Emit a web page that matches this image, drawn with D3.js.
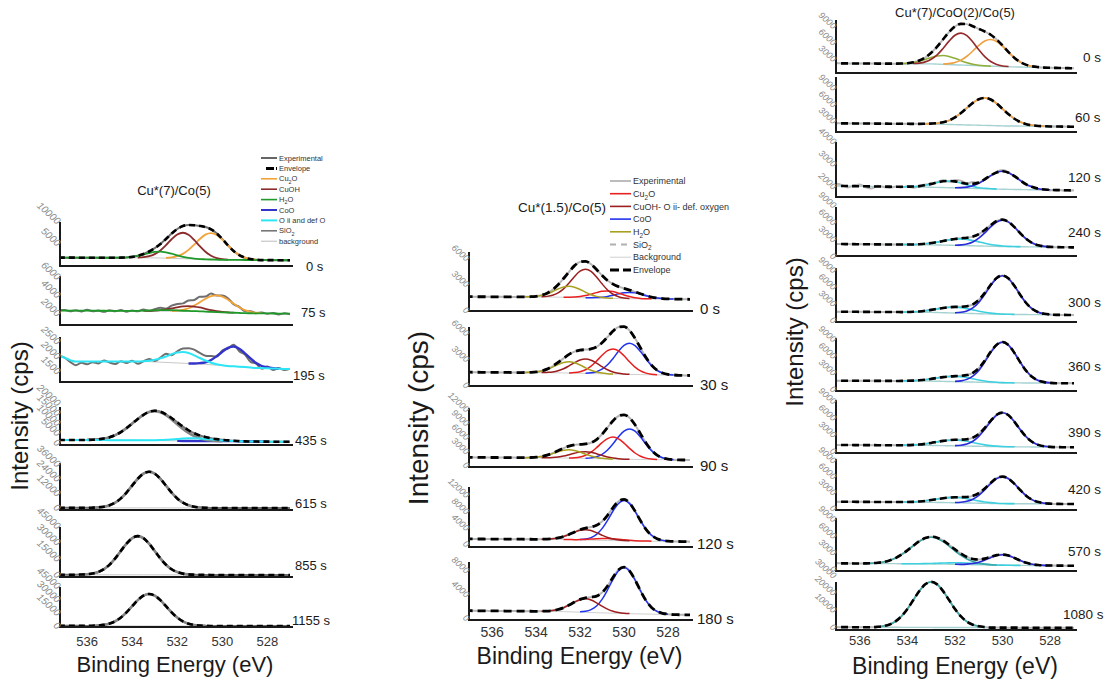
<!DOCTYPE html>
<html><head><meta charset="utf-8">
<script src="https://cdn.jsdelivr.net/npm/d3@7"></script>
<style>body{margin:0;background:#fff}svg{display:block}text{font-family:Arial,"Liberation Sans",sans-serif}</style>
</head><body><svg id="c" width="1108" height="682"></svg>
<script>
// ================= DATA =================
const energyTicks = [536, 534, 532, 530, 528];
const gridStep = 0.25;            // eV spacing of sampled component values
const axisTitleX = "Binding Energy (eV)";
const axisTitleY = "Intensity (cps)";

// ---- Left: Cu*(7)/Co(5) ----
const leftTitle = "Cu*(7)/Co(5)";
const leftTimes = ["0 s","75 s","195 s","435 s","615 s","855 s","1155 s"];
const leftYDomains = [[0,10000],[800,6200],[1170,2670],[-500,18500],[-800,37600],[-900,45000],[0,45000]];
const leftYTicks = [[5000,10000],[2000,4000,6000],[1500,2000,2500],[0,5000,10000,15000,20000],[0,12000,24000,36000],[0,15000,30000,45000],[0,15000,30000,45000]];
const leftLegendLabels = ["Experimental","Envelope","Cu_2O","CuOH","H_2O","CoO","O ii and def O","SiO_2","background"];
const leftBackground = [
  [[537.2,1900],[533,1850],[530,1400],[527,1300]],
  [[537.2,2400],[531,2300],[529,2100],[527,2050]],
  [[537.2,2050],[536.6,1850],[533.3,1850],[531,1770],[528.5,1640],[527,1600]],
  [[537.2,2000],[534,1900],[531,1400],[527,1100]],
  [[537.2,1000],[527,800]],
  [[537.2,1200],[527,900]],
  [[537.2,1300],[527,1000]]];
// each component: [start energy (eV), heights above background every 0.25 eV going to lower energy]
const leftCu2O = [
  [532.5,[80,220,520,1100,2030,3260,4580,5610,6000,5610,4580,3260,2030,1100,520,220,80]],
  [532.25,[20,70,160,340,630,1010,1410,1730,1850,1730,1410,1010,630,340,160,70,20]],
  null,null,null,null,null];
const leftCuOH = [
  [533.75,[40,140,370,860,1720,2950,4340,5460,5900,5460,4340,2950,1720,860,370,140,40]],
  [533.5,[10,20,50,100,190,310,430,530,570,530,430,310,190,100,50,20,10]],
  null,null,null,null,null];
const leftH2O = [
  [534.75,[10,30,90,210,420,730,1070,1340,1450,1340,1070,730,420,210,90,30,10]],
  [534.5,[0,0,10,20,40,60,90,110,120,110,90,60,40,20,10,0,0]],
  null,null,null,null,null];
const leftCoO = [null,null,
  [531.5,[0,10,30,70,160,300,460,600,660,600,460,300,160,70,30,10,0]],
  [532,[0,0,10,30,60,100,150,190,200,190,150,100,60,30,10,0,0]],
  null,null,null];
const leftOii = [null,null,
  [533.75,[0,10,30,70,130,200,280,350,370,350,280,200,130,70,30,10,0]],
  [533.25,[90,170,300,470,700,950,1180,1340,1400,1340,1180,950,700,470,300,170,90]],
  null,null,null];
const leftSiO2 = [null,null,null,
  [536.0,[90,190,410,810,1480,2540,4040,6010,8290,10660,12740,14190,14700,14190,12740,10660,8290,6010,4040,2540,1480,810,410,190,90]],
  [535.75,[150,380,970,2150,4310,7760,12540,18230,23810,27970,29500,27970,23810,18230,12540,7760,4310,2150,970,380,150]],
  [536.25,[180,460,1170,2590,5180,9340,15090,21940,28650,33650,35500,33650,28650,21940,15090,9340,5180,2590,1170,460,180]],
  [535.75,[180,470,1190,2630,5260,9470,15300,22250,29050,34130,36000,34130,29050,22250,15300,9470,5260,2630,1190,470,180]]];
// deviation of the measured curve from the envelope, every 0.25 eV from 537 to 527 eV
const leftExpResidual = [null,
  [60,-80,40,-100,90,-60,20,-120,70,-40,100,-90,30,-50,110,-70,60,150,-30,180,220,120,250,80,160,-60,90,-120,60,140,-80,40,-110,70,-60,90,-40,60,-100,30,-70],
  [0,-60,-120,-40,-90,-20,-60,40,-30,-80,10,-50,30,-70,0,60,-40,20,90,-30,40,120,160,180,140,90,60,-40,30,-20,60,-80,-40,-110,-20,-90,30,-60,20,-40,10],
  null,null,null,null];

// ---- Middle: Cu*(1.5)/Co(5) ----
const midTitle = "Cu*(1.5)/Co(5)";
const midTimes = ["0 s","30 s","90 s","120 s","180 s"];
const midYDomains = [[0,6800],[0,6800],[-200,12400],[-500,14100],[-170,9500]];
const midYTicks = [[0,3000,6000],[0,3000,6000],[0,3000,6000,9000,12000],[0,4000,8000,12000],[0,4000,8000]];
const midLegendLabels = ["Experimental","Cu_2O","CuOH- O ii- def. oxygen","CoO","H_2O","SiO_2","Background","Envelope"];
const midBackground = [
  [[537.05,1650],[533,1600],[530,1420],[527,1350]],
  [[537.05,1590],[533,1520],[530,1350],[527,1210]],
  [[537.05,1860],[533,1750],[530,1450],[527,1280]],
  [[537.05,1460],[533,1350],[530,1000],[527,800]],
  [[537.05,1380],[533,1250],[530,900],[527,670]]];
const midH2O = [
  [534.5,[10,30,80,190,370,640,940,1190,1280,1190,940,640,370,190,80,30,10]],
  [534.5,[10,30,80,190,380,650,960,1200,1300,1200,960,650,380,190,80,30,10]],
  [534.5,[10,40,110,260,530,900,1320,1670,1800,1670,1320,900,530,260,110,40,10]],
  null,null];
const midCuOH = [
  [533.75,[20,80,210,480,960,1650,2430,3060,3300,3060,2430,1650,960,480,210,80,20]],
  [533.75,[10,40,100,240,480,830,1210,1530,1650,1530,1210,830,480,240,100,40,10]],
  [533.75,[10,30,90,210,420,730,1070,1340,1450,1340,1070,730,420,210,90,30,10]],
  [533.75,[20,60,160,370,730,1250,1840,2320,2500,2320,1840,1250,730,370,160,60,20]],
  [533.75,[20,50,140,330,660,1130,1650,2080,2250,2080,1650,1130,660,330,140,50,20]]];
const midCu2O = [
  [532.75,[10,20,50,120,250,430,620,790,850,790,620,430,250,120,50,20,10]],
  [532.5,[20,70,180,420,850,1450,2130,2690,2900,2690,2130,1450,850,420,180,70,20]],
  [532.5,[30,110,300,690,1370,2350,3450,4350,4700,4350,3450,2350,1370,690,300,110,30]],
  [532.75,[0,10,30,70,150,250,370,460,500,460,370,250,150,70,30,10,0]],
  null];
const midCoO = [
  [531.75,[10,20,50,110,210,370,540,680,730,680,540,370,210,110,50,20,10]],
  [531.75,[30,80,230,530,1050,1800,2650,3330,3600,3330,2650,1800,1050,530,230,80,30]],
  [531.75,[50,150,410,950,1900,3250,4780,6020,6500,6020,4780,3250,1900,950,410,150,50]],
  [532,[70,230,620,1430,2860,4900,7200,9070,9800,9070,7200,4900,2860,1430,620,230,70]],
  [532,[60,180,490,1120,2250,3850,5660,7130,7700,7130,5660,3850,2250,1120,490,180,60]]];

// ---- Right: Cu*(7)/CoO(2)/Co(5) ----
const rightTitle = "Cu*(7)/CoO(2)/Co(5)";
const rightTimes = ["0 s","60 s","120 s","240 s","300 s","360 s","390 s","420 s","570 s","1080 s"];
const rightYDomains = [[545,10180],[1090,11090],[1556,4000],[176,8820],[-180,9530],[-180,9350],[-180,9350],[-190,9380],[-180,9350],[-1150,26540]];
const rightYTicks = [[3000,6000,9000],[3000,6000,9000],[2000,3000,4000],[0,3000,6000,9000],[0,3000,6000,9000],[0,3000,6000,9000],[0,3000,6000,9000],[0,3000,6000,9000],[0,3000,6000,9000],[0,10000,20000,30000]];
const rightBackground = [
  [[537,2300],[533,2200],[530,1700],[527,1400]],
  [[537,2670],[533,2550],[530,2200],[527,2050]],
  [[537,2050],[533,1990],[530,1900],[527,1850]],
  [[537,2290],[533,2150],[530,1850],[527,1700]],
  [[537,1680],[533,1550],[530,1200],[527,1080]],
  [[537,1680],[533,1600],[530,1300],[527,1200]],
  [[537,1260],[533,1180],[530,950],[527,850]],
  [[537,1370],[533,1250],[530,1000],[527,940]],
  [[537,1200],[533,1100],[530,850],[527,770]],
  [[537,500],[527,100]]];
const rightH2O = [[534.5,[10,40,100,230,470,800,1180,1480,1600,1480,1180,800,470,230,100,40,10]],null,null,null,null,null,null,null,null,null];
const rightCuOH = [[533.75,[40,130,360,850,1690,2900,4260,5370,5800,5370,4260,2900,1690,850,360,130,40]],null,null,null,null,null,null,null,null,null];
const rightCu2O = [
  [532.5,[60,170,420,890,1640,2640,3700,4530,4850,4530,3700,2640,1640,890,420,170,60]],
  [533.25,[30,70,170,370,730,1320,2130,3090,4040,4740,5000,4740,4040,3090,2130,1320,730,370,170,70,30]],
  null,null,null,null,null,null,null,null];
const rightOii = [null,null,
  [534.25,[0,10,20,40,90,150,220,280,300,280,220,150,90,40,20,10,0]],
  [534.25,[10,20,40,90,170,310,500,720,940,1110,1170,1110,940,720,500,310,170,90,40,20,10]],
  [534.5,[10,10,30,80,150,280,450,650,850,1000,1050,1000,850,650,450,280,150,80,30,10,10]],
  [534.5,[0,10,30,70,140,250,400,590,770,900,950,900,770,590,400,250,140,70,30,10,0]],
  [534.5,[10,10,30,80,150,280,450,660,860,1000,1060,1000,860,660,450,280,150,80,30,10,10]],
  [534.5,[10,10,30,70,150,260,430,620,810,950,1000,950,810,620,430,260,150,70,30,10,10]],
  [534.25,[0,0,10,20,40,80,130,190,240,280,300,280,240,190,130,80,40,20,10,0,0]],
  null];
const rightCoO = [null,null,
  [532,[10,20,50,120,230,400,590,740,800,740,590,400,230,120,50,20,10]],
  [532,[30,110,290,680,1360,2330,3420,4310,4650,4310,3420,2330,1360,680,290,110,30]],
  [532,[50,160,440,1010,2030,3480,5110,6440,6950,6440,5110,3480,2030,1010,440,160,50]],
  [532,[50,170,460,1070,2130,3650,5370,6760,7300,6760,5370,3650,2130,1070,460,170,50]],
  [532,[40,140,380,890,1780,3050,4480,5650,6100,5650,4480,3050,1780,890,380,140,40]],
  [532,[40,120,320,740,1470,2530,3710,4680,5050,4680,3710,2530,1470,740,320,120,40]],
  [532,[10,20,80,210,460,860,1330,1740,1900,1740,1330,860,460,210,80,20,10]],
  null];
const rightSiO2 = [null,null,null,null,null,null,null,null,
  [535.75,[20,60,140,300,580,1010,1630,2400,3250,4040,4600,4800,4600,4040,3250,2400,1630,1010,580,300,140,60,20]],
  [535.25,[260,710,1630,3420,6390,10630,15810,20960,24850,26300,24850,20960,15810,10630,6390,3420,1630,710,260]]];
const rightExpResidual = [null,null,
  [100,40,-60,20,80,-40,-90,30,-20,-60,10,-30,20,-50,-10,30,-20,10,40,-30,60,90,20,70,-10,30,-20,40,60,20,-30,10,-40,30,-20,10,-30,20,-10,-20,10],
  null,null,null,null,null,null,null];

// ================= DRAWING =================
const svg = d3.select("#c");
const grid = d3.range(0, 42).map(k => 537.25 - k * gridStep);

function compAt(comp, E) {
  const k = Math.round((comp[0] - E) / gridStep);
  return (k >= 0 && k < comp[1].length) ? comp[1][k] : 0;
}

function richText(t, label, fs) {
  const parts = label.split(/_(\d)/);
  let sub = false;
  parts.forEach((p, i) => {
    if (i % 2 === 1) { t.append("tspan").attr("font-size", fs * 0.72).attr("dy", fs * 0.3).text(p); sub = true; }
    else if (p) { const ts = t.append("tspan").text(p); if (sub) { ts.attr("dy", -fs * 0.3); sub = false; } }
  });
}

let clipCount = 0;
function drawPanel(P) {
  const g = svg.append("g");
  const x = d3.scaleLinear().domain(P.eDomain).range([P.x0, P.x1]);
  P.rows.forEach(([bottom, top], i) => {
    const y = d3.scaleLinear().domain(P.yDomains[i]).range([bottom, top]);
    const knots = P.bg[i];
    const bg = d3.scaleLinear().domain(knots.map(d => d[0])).range(knots.map(d => d[1])).clamp(true);
    const id = "clip" + (clipCount++);
    g.append("clipPath").attr("id", id).append("rect")
      .attr("x", P.x0 + 1).attr("y", top - 14).attr("width", P.x1 - P.x0 - 1).attr("height", bottom - top + 13);
    const cg = g.append("g").attr("clip-path", `url(#${id})`);
    const line = d3.line().x(d => x(d[0])).y(d => y(d[1])).curve(d3.curveMonotoneX);
    const comps = P.comps.map(c => ({ ...c, d: c.v[i] })).filter(c => c.d);
    const env = grid.map(E => [E, bg(E) + d3.sum(comps, c => compAt(c.d, E))]);
    const res = P.residual ? P.residual[i] : null;
    const exp = env.map((p, j) => [p[0], p[1] + (res && j > 0 && res[j - 1] !== undefined ? res[j - 1] : 0)]);
    // background
    cg.append("path").attr("d", line(grid.map(E => [E, bg(E)]))).attr("fill", "none")
      .attr("stroke", P.bgColor).attr("stroke-width", P.bgWidth);
    // experimental
    cg.append("path").attr("d", line(exp)).attr("fill", "none").attr("stroke", P.expColor)
      .attr("stroke-width", P.expWidth).attr("stroke-linejoin", "round");
    // components
    comps.forEach(c => {
      let pts;
      if (c.full) pts = grid.map(E => [E, bg(E) + compAt(c.d, E)]);
      else pts = c.d[1].map((h, k) => { const E = c.d[0] - k * gridStep; return [E, bg(E) + h]; });
      cg.append("path").attr("d", line(pts)).attr("fill", "none").attr("stroke", c.c)
        .attr("stroke-width", c.w || P.compWidth).attr("stroke-linejoin", "round");
    });
    // envelope
    if (P.envShow[i]) {
      cg.append("path").attr("d", line(env)).attr("fill", "none").attr("stroke", "#000")
        .attr("stroke-width", P.envWidth).attr("stroke-dasharray", P.envDash);
    }
    // axes
    g.append("line").attr("x1", P.x0).attr("x2", P.x0).attr("y1", top).attr("y2", bottom + 1)
      .attr("stroke", "#1a1a1a").attr("stroke-width", 2);
    g.append("line").attr("x1", P.x0).attr("x2", P.x1 + 3).attr("y1", bottom).attr("y2", bottom)
      .attr("stroke", "#1a1a1a").attr("stroke-width", 2);
    // rotated y tick labels
    P.yTicks[i].forEach(v => {
      g.append("text").attr("transform", `translate(${P.x0 - 3},${y(v) + 3}) rotate(42)`)
        .attr("text-anchor", "end").attr("font-size", P.tickFont).attr("fill", "#8a8a8a")
        .attr("font-style", "italic").text(d3.format("d")(v));
    });
    // time label
    g.append("text").attr("x", P.timePos[i][0]).attr("y", P.timePos[i][1])
      .attr("font-size", P.timeFont).attr("fill", "#1a1a1a").text(P.times[i]);
    // x tick labels on the bottom subplot
    if (i === P.rows.length - 1) {
      energyTicks.forEach(e => {
        g.append("text").attr("x", x(e)).attr("y", bottom + P.xTickDy).attr("text-anchor", "middle")
          .attr("font-size", P.xTickFont).attr("fill", "#333").text(e);
      });
      g.append("text").attr("x", (P.x0 + P.x1) / 2).attr("y", P.xTitleY).attr("text-anchor", "middle")
        .attr("font-size", P.xTitleFont).attr("fill", "#1a1a1a").text(axisTitleX);
    }
  });
  g.append("text").attr("transform", `translate(${P.yTitle[0]},${P.yTitle[1]}) rotate(-90)`)
    .attr("text-anchor", "middle").attr("font-size", P.yTitleFont).attr("fill", "#1a1a1a").text(axisTitleY);
  g.append("text").attr("x", P.title[0]).attr("y", P.title[1]).attr("text-anchor", "middle")
    .attr("font-size", P.titleFont).attr("fill", "#1a1a1a").text(P.titleText);
  if (P.legend) {
    const L = P.legend;
    L.labels.forEach((lab, k) => {
      const yy = L.y0 + k * L.dy;
      const s = L.styles[k];
      g.append("line").attr("x1", s.x1 !== undefined ? s.x1 : L.x1).attr("x2", L.x2).attr("y1", yy).attr("y2", yy)
        .attr("stroke", s.c).attr("stroke-width", s.w).attr("stroke-dasharray", s.dash || null);
      const t = g.append("text").attr("x", L.tx).attr("y", yy + L.fs * 0.35).attr("font-size", L.fs).attr("fill", "#333");
      richText(t, lab, L.fs);
    });
  }
}

// colours
const LC = { exp: "#6e6e6e", cu2o: "#f2a33a", cuoh: "#8c2b2b", h2o: "#1f9a2a", coo: "#3434c8", oii: "#2de6f5", sio2: "#858585", bg: "#c8c8c8" };
const MC = { exp: "#b5b5b5", cu2o: "#e82020", cuoh: "#9c1e1e", coo: "#2233ee", h2o: "#a8a020", sio2: "#b8b8b8", bg: "#d0d0d0" };
const RC = { exp: "#b8b8b8", cu2o: "#f0a040", cuoh: "#962a2a", coo: "#2a2ad8", oii: "#3fd0e0", sio2: "#3aa6a6", h2o: "#8fae3a", bg: "#a6d2d2" };

drawPanel({
  x0: 60, x1: 290, eDomain: [537.2, 527],
  rows: [[266,222],[325,276],[382,337],[445,407],[510,463],[577,527],[627,587]],
  yDomains: leftYDomains, yTicks: leftYTicks, bg: leftBackground, times: leftTimes,
  timePos: [[306,271],[301,317],[293,380],[295,445],[295,508],[295,570],[292,625]], timeFont: 13,
  comps: [{ v: leftCu2O, c: LC.cu2o }, { v: leftCuOH, c: LC.cuoh }, { v: leftCoO, c: LC.coo, w: 2.4 },
          { v: leftSiO2, c: LC.sio2, w: 2.6 }, { v: leftH2O, c: LC.h2o, full: true }, { v: leftOii, c: LC.oii, full: true, w: 2 }],
  residual: leftExpResidual, expColor: LC.exp, expWidth: 2, compWidth: 1.8,
  bgColor: LC.bg, bgWidth: 1,
  envShow: [true, false, false, true, true, true, true], envWidth: 2.6, envDash: "6,4",
  tickFont: 10, xTickDy: 19, xTickFont: 13, xTitleY: 672, xTitleFont: 22,
  yTitle: [28, 416], yTitleFont: 24, title: [174, 195], titleFont: 13, titleText: leftTitle,
  legend: { labels: leftLegendLabels, x1: 261, x2: 277, tx: 279, y0: 158, dy: 10.4, fs: 7.5,
    styles: [{ c: "#555", w: 1.8 }, { c: "#000", w: 3, x1: 266, dash: "8,2" }, { c: LC.cu2o, w: 1.6 }, { c: LC.cuoh, w: 1.6 },
             { c: LC.h2o, w: 1.6 }, { c: LC.coo, w: 2 }, { c: LC.oii, w: 2 }, { c: "#777", w: 1.6 }, { c: "#bbb", w: 1 }] }
});

drawPanel({
  x0: 469, x1: 690, eDomain: [537.05, 527],
  rows: [[311,252],[386,327],[467,408],[547,487],[620,562]],
  yDomains: midYDomains, yTicks: midYTicks, bg: midBackground, times: midTimes,
  timePos: [[700,314],[700,390],[700,471],[697,549],[697,624]], timeFont: 15,
  comps: [{ v: midCoO, c: MC.coo }, { v: midCu2O, c: MC.cu2o }, { v: midCuOH, c: MC.cuoh }, { v: midH2O, c: MC.h2o }],
  residual: null, expColor: MC.exp, expWidth: 2, compWidth: 1.5,
  bgColor: MC.bg, bgWidth: 1,
  envShow: [true, true, true, true, true], envWidth: 2.8, envDash: "8,5",
  tickFont: 9, xTickDy: 17, xTickFont: 14, xTitleY: 664, xTitleFont: 23,
  yTitle: [428, 418], yTitleFont: 28, title: [562, 212], titleFont: 13.5, titleText: midTitle,
  legend: { labels: midLegendLabels, x1: 610, x2: 631, tx: 633, y0: 181, dy: 12.7, fs: 9,
    styles: [{ c: MC.exp, w: 1.8 }, { c: MC.cu2o, w: 1.6 }, { c: MC.cuoh, w: 1.6 }, { c: MC.coo, w: 1.6 },
             { c: MC.h2o, w: 1.6 }, { c: "#b0b0b0", w: 2, dash: "6,5" }, { c: "#d0d0d0", w: 1 }, { c: "#000", w: 3, dash: "9,4" }] }
});

drawPanel({
  x0: 836, x1: 1074, eDomain: [537, 527],
  rows: [[73,20],[132,77],[197,142],[256,207],[322,268],[391,338],[453,400],[510,459],[571,518],[630,582]],
  yDomains: rightYDomains, yTicks: rightYTicks, bg: rightBackground, times: rightTimes,
  timePos: [[1083,62],[1075,122],[1068,182],[1068,237],[1068,307],[1068,371],[1068,437],[1068,494],[1068,556],[1063,619]], timeFont: 13.5,
  comps: [{ v: rightH2O, c: RC.h2o }, { v: rightCu2O, c: RC.cu2o }, { v: rightCuOH, c: RC.cuoh }, { v: rightOii, c: RC.oii },
          { v: rightSiO2, c: RC.sio2 }, { v: rightCoO, c: RC.coo }],
  residual: rightExpResidual, expColor: RC.exp, expWidth: 2, compWidth: 1.6,
  bgColor: RC.bg, bgWidth: 1.4,
  envShow: [true, true, true, true, true, true, true, true, true, true], envWidth: 2.6, envDash: "7,4",
  tickFont: 9, xTickDy: 15, xTickFont: 13, xTitleY: 674, xTitleFont: 23,
  yTitle: [803, 332], yTitleFont: 24, title: [955, 17], titleFont: 13, titleText: rightTitle,
  legend: null
});
</script></body></html>
